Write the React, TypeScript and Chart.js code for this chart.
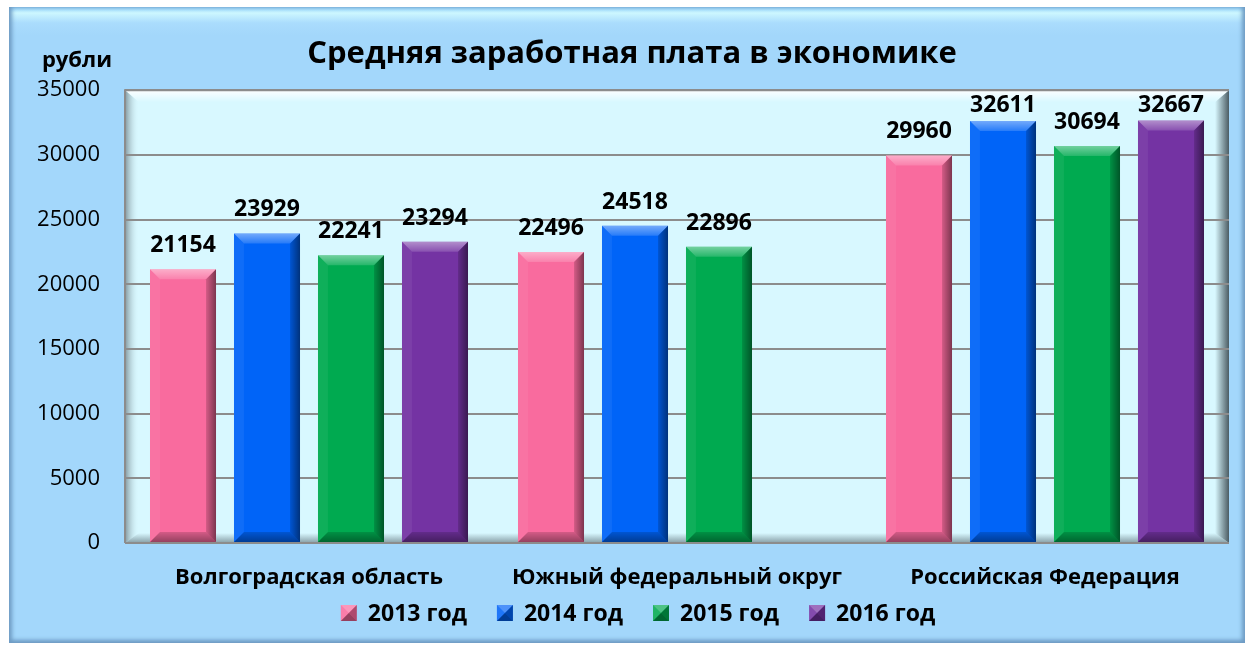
import React, { useEffect, useRef } from 'react';
import { Chart, registerables } from 'chart.js';

Chart.register(...registerables);

const categories = ['Волгоградская область', 'Южный федеральный округ', 'Российская Федерация'];
const seriesNames = ['2013 год', '2014 год', '2015 год', '2016 год'];
const v2013 = [21154, 22496, 29960];
const v2014 = [23929, 24518, 32611];
const v2015 = [22241, 22896, 30694];
const v2016 = [23294, null, 32667];
const seriesColors = ['#F96B9E', '#0064F8', '#00AA50', '#7433A3'];
const yMin = 0;
const yMax = 35000;
const yStep = 5000;
const titleText = 'Средняя заработная плата в экономике';
const yUnit = 'рубли';

const FONT = '"Open Sans", "DejaVu Sans", sans-serif';

function poly(ctx: CanvasRenderingContext2D, pts: number[][], fill: any) {
  ctx.beginPath();
  ctx.moveTo(pts[0][0], pts[0][1]);
  for (let i = 1; i < pts.length; i++) ctx.lineTo(pts[i][0], pts[i][1]);
  ctx.closePath();
  ctx.fillStyle = fill;
  ctx.fill();
}

const plotBgPlugin = {
  id: 'plotBg',
  beforeDraw(chart: any) {
    const { ctx, chartArea } = chart;
    const { left, top, right, bottom } = chartArea;
    ctx.save();
    ctx.fillStyle = '#D8F8FF';
    ctx.fillRect(left, top, right - left, bottom - top);
    const bl = 14, br = 14, bt = 12, bb = 10;
    let g = ctx.createLinearGradient(0, top, 0, top + bt);
    g.addColorStop(0, 'rgba(255,255,255,0.95)');
    g.addColorStop(1, 'rgba(255,255,255,0)');
    poly(ctx, [[left, top], [right, top], [right - br, top + bt], [left + bl, top + bt]], g);
    g = ctx.createLinearGradient(left, 0, left + bl, 0);
    g.addColorStop(0, 'rgba(120,140,148,0.9)');
    g.addColorStop(1, 'rgba(216,248,255,0)');
    poly(ctx, [[left, top], [left + bl, top + bt], [left + bl, bottom - bb], [left, bottom]], g);
    g = ctx.createLinearGradient(right - br, 0, right, 0);
    g.addColorStop(0, 'rgba(60,75,82,0)');
    g.addColorStop(1, 'rgba(60,75,82,0.9)');
    poly(ctx, [[right, top], [right, bottom], [right - br, bottom - bb], [right - br, top + bt]], g);
    g = ctx.createLinearGradient(0, bottom - bb, 0, bottom);
    g.addColorStop(0, 'rgba(100,120,128,0)');
    g.addColorStop(1, 'rgba(100,120,128,0.7)');
    poly(ctx, [[left, bottom], [right, bottom], [right - br, bottom - bb], [left + bl, bottom - bb]], g);
    ctx.strokeStyle = '#8c8c8c';
    ctx.lineWidth = 2;
    ctx.beginPath();
    ctx.moveTo(left, bottom);
    ctx.lineTo(left, top);
    ctx.lineTo(right, top);
    ctx.moveTo(left, bottom);
    ctx.lineTo(right, bottom);
    ctx.stroke();
    ctx.restore();
  },
};

function bevelRect(ctx: CanvasRenderingContext2D, l: number, t: number, r: number, b: number, s: number) {
  let g = ctx.createLinearGradient(0, t, 0, t + s);
  g.addColorStop(0, 'rgba(255,255,255,0.45)');
  g.addColorStop(1, 'rgba(255,255,255,0.15)');
  poly(ctx, [[l, t], [r, t], [r - s, t + s], [l + s, t + s]], g);
  poly(ctx, [[l, t], [l + s, t + s], [l + s, b - s], [l, b]], 'rgba(255,255,255,0.06)');
  g = ctx.createLinearGradient(r - s, 0, r, 0);
  g.addColorStop(0, 'rgba(0,0,0,0.15)');
  g.addColorStop(1, 'rgba(0,0,0,0.5)');
  poly(ctx, [[r, t], [r, b], [r - s, b - s], [r - s, t + s]], g);
  g = ctx.createLinearGradient(0, b - s, 0, b);
  g.addColorStop(0, 'rgba(0,0,0,0.15)');
  g.addColorStop(1, 'rgba(0,0,0,0.4)');
  poly(ctx, [[l, b], [r, b], [r - s, b - s], [l + s, b - s]], g);
}

function pyramid(ctx: CanvasRenderingContext2D, l: number, t: number, w: number, h: number) {
  const cx = l + w / 2, cy = t + h / 2, r = l + w, b = t + h;
  poly(ctx, [[l, t], [r, t], [cx, cy]], 'rgba(255,255,255,0.3)');
  poly(ctx, [[l, t], [cx, cy], [l, b]], 'rgba(255,255,255,0.12)');
  poly(ctx, [[r, t], [r, b], [cx, cy]], 'rgba(0,0,0,0.3)');
  poly(ctx, [[l, b], [r, b], [cx, cy]], 'rgba(0,0,0,0.4)');
}

const barDecorPlugin = {
  id: 'barDecor',
  afterDatasetsDraw(chart: any) {
    const { ctx, chartArea } = chart;
    ctx.save();
    chart.data.datasets.forEach((ds: any, i: number) => {
      const meta = chart.getDatasetMeta(i);
      meta.data.forEach((el: any, j: number) => {
        const v = ds.data[j];
        if (v === null || v === undefined) return;
        const w = el.width;
        const l = el.x - w / 2;
        const r = el.x + w / 2;
        const t = Math.min(el.y, el.base);
        const b = Math.max(el.y, el.base);
        bevelRect(ctx, l, t, r, b, 10);
      });
    });
    ctx.fillStyle = '#000';
    ctx.font = 'bold 23px ' + FONT;
    ctx.textAlign = 'center';
    ctx.textBaseline = 'alphabetic';
    chart.data.datasets.forEach((ds: any, i: number) => {
      const meta = chart.getDatasetMeta(i);
      meta.data.forEach((el: any, j: number) => {
        const v = ds.data[j];
        if (v === null || v === undefined) return;
        const y = Math.max(el.y - 17, chartArea.top + 22);
        ctx.fillText(String(v), el.x, y);
      });
    });
    ctx.restore();
  },
  afterDraw(chart: any) {
    const { ctx, chartArea } = chart;
    ctx.save();
    ctx.fillStyle = '#000';
    ctx.textBaseline = 'middle';
    // category labels, positioned by the x scale
    const xs = chart.scales.x;
    ctx.font = 'bold 22px ' + FONT;
    ctx.textAlign = 'center';
    categories.forEach((c, i) => {
      ctx.fillText(c, xs.getPixelForValue(i), chartArea.bottom + 35);
    });
    // legend
    ctx.font = 'bold 23px ' + FONT;
    const box = 16, gap = 11, spacing = 30;
    const widths = seriesNames.map((n) => box + gap + ctx.measureText(n).width);
    const total = widths.reduce((a, b) => a + b, 0) + spacing * (widths.length - 1);
    let x = chart.width / 2 + 11 - total / 2;
    const cy = chartArea.bottom + 70;
    ctx.textAlign = 'left';
    seriesNames.forEach((n, i) => {
      ctx.fillStyle = seriesColors[i];
      ctx.fillRect(x, cy - box / 2, box, box);
      pyramid(ctx, x, cy - box / 2, box, box);
      ctx.fillStyle = '#000';
      ctx.fillText(n, x + box + gap, cy + 1);
      x += widths[i] + spacing;
    });
    // unit label
    ctx.font = 'bold 22px ' + FONT;
    ctx.textAlign = 'center';
    ctx.textBaseline = 'alphabetic';
    ctx.fillText(yUnit, 68, 60);
    ctx.restore();
  },
};

export default function App() {
  const ref = useRef<HTMLCanvasElement | null>(null);
  useEffect(() => {
    if (!ref.current) return;
    const seriesValues = [v2013, v2014, v2015, v2016];
    const chart = new Chart(ref.current, {
      type: 'bar',
      data: {
        labels: categories,
        datasets: seriesNames.map((name, i) => ({
          label: name,
          data: seriesValues[i],
          backgroundColor: seriesColors[i],
          borderWidth: 0,
          barPercentage: 0.786,
          categoryPercentage: 0.913,
        })),
      },
      options: {
        animation: false,
        responsive: true,
        maintainAspectRatio: false,
        events: [],
        layout: { padding: { left: 26, right: 16, top: 0, bottom: 100 } },
        plugins: {
          title: {
            display: true,
            text: titleText,
            color: '#000',
            font: { family: FONT, size: 31, weight: 'bold' },
            padding: { top: 29, bottom: 17 },
          },
          legend: { display: false },
          tooltip: { enabled: false },
        },
        scales: {
          x: {
            grid: { display: false, drawTicks: false },
            border: { display: false },
            ticks: { display: false },
            afterFit: (s: any) => { s.height = 0; },
          },
          y: {
            min: yMin,
            max: yMax,
            grid: { color: '#8c8c8c', lineWidth: 2, drawTicks: false },
            border: { display: false },
            ticks: {
              stepSize: yStep,
              color: '#000',
              font: { family: FONT, size: 22 },
              padding: 25,
              callback: (v: any) => String(v),
            },
            afterFit: (s: any) => { s.width = 90; },
          },
        },
      },
      plugins: [plotBgPlugin, barDecorPlugin],
    } as any);
    return () => chart.destroy();
  }, []);

  return (
    <div
      style={{
        position: 'absolute',
        left: 9,
        top: 7,
        width: 1236,
        height: 636,
        background:
          'linear-gradient(to bottom, #8fcdf6 0px, #cdf7ff 6px, #aadcfd 16px, #a3d7fb 28px, #a3d7fb 100%)',
        boxShadow:
          'inset 4px 0 4px -1px #6f9cc4, inset -4px 0 4px -1px #6f9cc4, inset 0 -4px 4px -1px #6f9cc4',
      }}
    >
      <canvas ref={ref} />
    </div>
  );
}
